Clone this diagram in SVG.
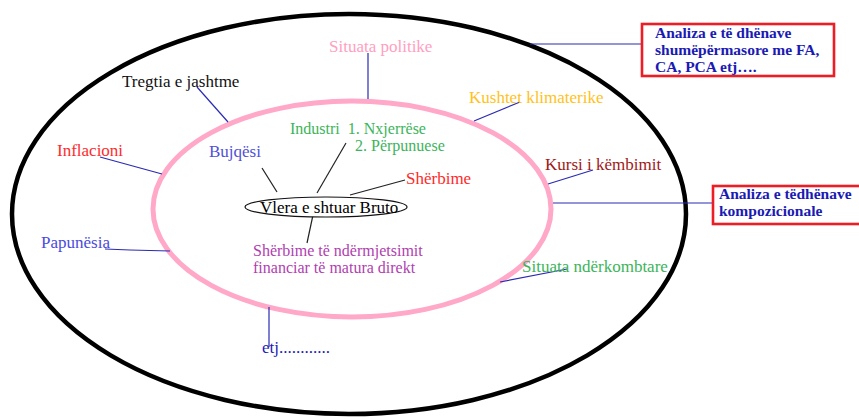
<svg xmlns="http://www.w3.org/2000/svg" width="859" height="419" viewBox="0 0 859 419">
<style>
text{font-family:"Liberation Serif","Times New Roman",serif;font-size:17px}
.ml{font-size:16px}
.bl{stroke:#2a2ab4;stroke-width:1.2;fill:none}
.k{stroke:#222;stroke-width:1.2;fill:none}
.box{fill:#fff;stroke:#ee1c24;stroke-width:2.6}
.bt{fill:#1a1ab4;font-size:15.5px;font-weight:bold}
</style>
<rect width="859" height="419" fill="#fff"/>
<g id="outer"><ellipse cx="349" cy="214" rx="337" ry="200" fill="none" stroke="#000" stroke-width="4.5"/></g>
<g id="inner"><ellipse cx="352" cy="209" rx="199" ry="108" fill="none" stroke="#ffa8c8" stroke-width="5"/></g>
<g id="connectors">
<line class="bl" x1="642" y1="44" x2="530" y2="44"/>
<line class="bl" x1="713" y1="203" x2="553" y2="203"/>
<line class="bl" x1="368" y1="53" x2="368" y2="99"/>
<line class="bl" x1="197" y1="87" x2="228" y2="122"/>
<line class="bl" x1="100" y1="157" x2="162" y2="174"/>
<line class="bl" x1="520" y1="102" x2="474" y2="121"/>
<line class="bl" x1="593" y1="170" x2="548" y2="184"/>
<polyline class="bl" points="105,249 130,250 170,251"/>
<line class="bl" x1="269" y1="307" x2="269" y2="347"/>
<line class="bl" x1="567" y1="269" x2="500" y2="282"/>
<line class="k" x1="262" y1="168" x2="277" y2="192"/>
<line class="k" x1="346" y1="143" x2="317" y2="193"/>
<line class="k" x1="405" y1="180" x2="350" y2="195"/>
<line class="k" x1="313" y1="215" x2="307" y2="243"/>
</g>
<g id="box1"><rect class="box" x="642" y="24" width="192" height="52"/>
<text class="bt" x="655" y="38">Analiza e të dhënave</text>
<text class="bt" x="655" y="55">shumëpërmasore me FA,</text>
<text class="bt" x="655" y="72">CA, PCA etj….</text></g>
<g id="box2"><rect class="box" x="713" y="186" width="150" height="38"/>
<text class="bt" x="719" y="199">Analiza e tëdhënave</text>
<text class="bt" x="719" y="216">kompozicionale</text></g>
<g id="situata-politike"><text x="329" y="52" fill="#ffa0c0">Situata politike</text></g>
<g id="tregtia"><text x="122" y="87" fill="#111">Tregtia e jashtme</text></g>
<g id="inflacioni"><text x="57" y="156" fill="#ff2a2a">Inflacioni</text></g>
<g id="kushtet"><text x="469" y="103" fill="#ffc21a">Kushtet klimaterike</text></g>
<g id="kursi"><text x="545" y="170" fill="#a01818">Kursi i këmbimit</text></g>
<g id="papunesia"><text x="41" y="248" fill="#4a4ae0">Papunësia</text></g>
<g id="etj"><text x="262" y="353" fill="#1a1ab4">etj............</text></g>
<g id="situata-nderk"><text x="522" y="272" fill="#3cb45a">Situata ndërkombtare</text></g>
<g id="industri"><text class="ml" x="290" y="134" fill="#3cb45a" xml:space="preserve">Industri  1. Nxjerrëse</text>
<text class="ml" x="355" y="151" fill="#3cb45a">2. Përpunuese</text></g>
<g id="bujqesi"><text x="209" y="157" fill="#5050d8">Bujqësi</text></g>
<g id="sherbime"><text x="406" y="184" fill="#ff2a2a">Shërbime</text></g>
<g id="vlera"><ellipse cx="326" cy="207" rx="81" ry="10" fill="#fff" stroke="#111" stroke-width="1.2"/>
<text x="260" y="213" fill="#000">Vlera e shtuar Bruto</text></g>
<g id="sherbime-fin"><text class="ml" x="253" y="256" fill="#b040b0">Shërbime të ndërmjetsimit</text>
<text class="ml" x="253" y="273" fill="#b040b0">financiar të matura direkt</text></g>
</svg>
